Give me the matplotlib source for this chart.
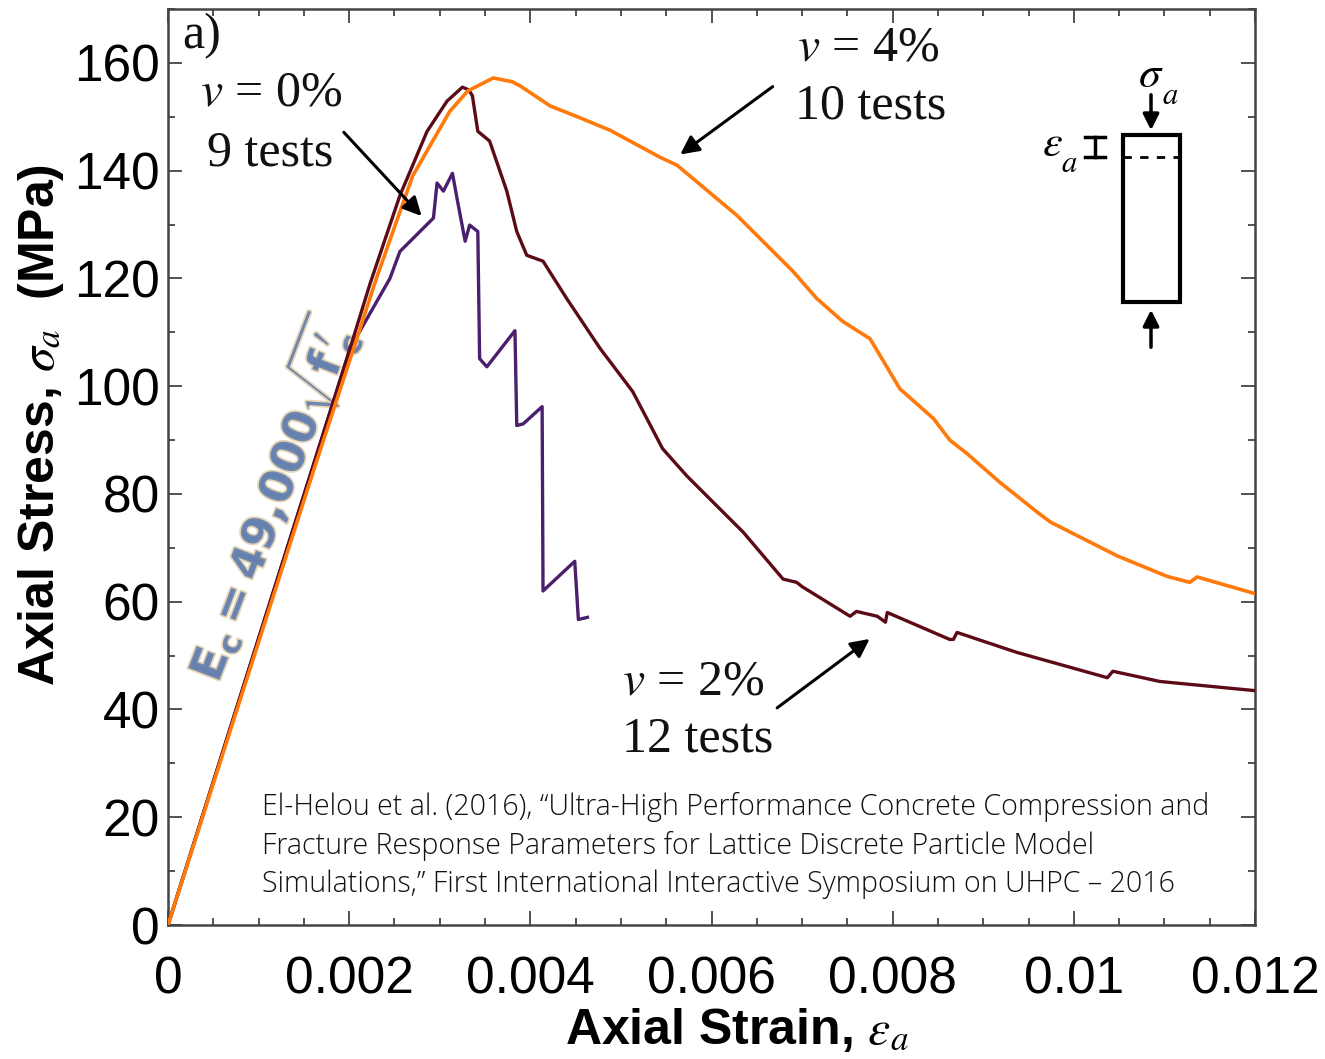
import matplotlib
matplotlib.use("Agg")
import matplotlib.pyplot as plt
import matplotlib.patheffects as pe
from matplotlib.patches import Rectangle
from matplotlib.ticker import MultipleLocator, FuncFormatter

# v = 0 % fibre volume (9 tests)
strain_v0 = [0, 0.00201, 0.00209, 0.00245, 0.00256, 0.00293, 0.00297, 0.00304,
             0.00314, 0.00319, 0.00328, 0.00333, 0.00342, 0.00344, 0.00352,
             0.00383, 0.00385, 0.00392, 0.00413, 0.00414, 0.00449, 0.00453,
             0.00463]
stress_v0 = [0, 107, 109.4, 120, 125, 131.2, 137.7, 136.2,
             139.5, 134.9, 126.9, 129.9, 128.7, 105.1, 103.6,
             110.3, 92.7, 93, 96.2, 62, 67.5, 56.7,
             57.1]

# v = 2 % (12 tests)
strain_v2 = [0, 0.0008, 0.0016, 0.002, 0.00223, 0.00256, 0.00286, 0.00308,
             0.00325, 0.00332, 0.00336, 0.00342, 0.00355, 0.00374, 0.00385,
             0.00396, 0.00414, 0.0044, 0.00477, 0.00513, 0.00546, 0.00573,
             0.00635, 0.00679, 0.00694, 0.0070, 0.00753, 0.0076, 0.00783,
             0.00792, 0.00794, 0.00863, 0.00867, 0.00871, 0.00937, 0.01037,
             0.01043, 0.01095, 0.012]
stress_v2 = [0, 42.5, 85, 106.5, 119, 135.4, 147.3, 152.9,
             155.5, 155, 153.9, 147.3, 145.5, 136.2, 128.7,
             124.3, 123.2, 116.3, 107, 99, 88.4, 83.3,
             72.9, 64.2, 63.6, 62.8, 57.3, 58.2, 57.3,
             56.2, 58, 53, 53, 54.3, 50.6, 45.9,
             47.1, 45.2, 43.5]

# v = 4 % (10 tests)
strain_v4 = [0, 0.0008, 0.0016, 0.002, 0.0023, 0.0027, 0.00311, 0.00331,
             0.00359, 0.0038, 0.00389, 0.00422, 0.00452, 0.00488, 0.00543,
             0.00562, 0.00628, 0.0069, 0.00716, 0.00745, 0.00775, 0.00808,
             0.00845, 0.00863, 0.00882, 0.00918, 0.00959, 0.00974, 0.01048,
             0.01103, 0.01128, 0.01136, 0.012]
stress_v4 = [0, 42, 84, 104.5, 120, 139, 151, 154.8,
             157.2, 156.5, 155.7, 152, 150, 147.5, 142.5,
             141, 131.7, 121.3, 116.3, 112, 108.8, 99.5,
             94, 90, 87.5, 82.2, 76.7, 74.8, 68.5,
             64.7, 63.6, 64.6, 61.5]

x_ticks = [0, 0.002, 0.004, 0.006, 0.008, 0.01, 0.012]
y_ticks = [0, 20, 40, 60, 80, 100, 120, 140, 160]

citation = ("El-Helou et al. (2016), \u201cUltra-High Performance Concrete Compression and\n"
            "Fracture Response Parameters for Lattice Discrete Particle Model\n"
            "Simulations,\u201d First International Interactive Symposium on UHPC \u2013 2016")

plt.rcParams["mathtext.fontset"] = "stix"

fig = plt.figure(figsize=(13.25, 10.59), dpi=100)
ax = fig.add_axes([0.1268, 0.1265, 0.8204, 0.865])

ax.plot(strain_v0, stress_v0, color="#4a1f6b", lw=2.4, zorder=3)
ax.plot(strain_v2, stress_v2, color="#5c0b16", lw=2.4, zorder=4)
ax.plot(strain_v4, stress_v4, color="#ff7a0a", lw=2.6, zorder=5)

ax.set_xlim(0, 0.012)
ax.set_ylim(0, 170)
ax.set_xticks(x_ticks)
ax.set_yticks(y_ticks)
ax.xaxis.set_minor_locator(MultipleLocator(0.0005))
ax.yaxis.set_minor_locator(MultipleLocator(10))
ax.xaxis.set_major_formatter(FuncFormatter(lambda v, p: "%g" % v))
ax.tick_params(which="both", direction="in", top=True, right=True,
               color="#444444", width=1.3)
ax.tick_params(which="major", length=10)
ax.tick_params(which="minor", length=5)
ax.tick_params(axis="x", which="major", pad=22)
ax.tick_params(axis="y", which="major", pad=6)
for lab in ax.get_xticklabels() + ax.get_yticklabels():
    lab.set_fontfamily("Liberation Sans")
    lab.set_fontsize(37)
for s in ax.spines.values():
    s.set_color("#444444")
    s.set_linewidth(1.8)

ax.set_xlabel(r"Axial Strain, $\varepsilon_a$", fontsize=36, fontweight="bold",
              family="Liberation Sans")
ax.set_ylabel(r"Axial Stress, $\sigma_a$  (MPa)", fontsize=36, fontweight="bold",
              family="Liberation Sans")
ax.xaxis.set_label_coords(0.523, -0.088)
ax.yaxis.set_label_coords(-0.094, 0.546)

serif = dict(family="Liberation Serif", fontsize=36, color="#111111")
ax.text(0.00016, 165, "a)", ha="left", va="center", **serif)
ax.text(0.00035, 154.4, r"$v$ = 0%", ha="left", va="center", **serif)
ax.text(0.00043, 143.3, "9 tests", ha="left", va="center", **serif)
ax.text(0.00694, 162.8, r"$v$ = 4%", ha="left", va="center", **serif)
ax.text(0.00692, 152, "10 tests", ha="left", va="center", **serif)
ax.text(0.00501, 45, r"$v$ = 2%", ha="left", va="center", **serif)
ax.text(0.00501, 34.4, "12 tests", ha="left", va="center", **serif)

arrow = dict(arrowstyle="-|>", color="black", lw=2.2, mutation_scale=28)
ax.annotate("", xy=(0.00282, 131.2), xytext=(0.00192, 147.5), arrowprops=arrow, zorder=6)
ax.annotate("", xy=(0.00563, 142.7), xytext=(0.0067, 155.9), arrowprops=arrow, zorder=6)
ax.annotate("", xy=(0.00777, 53.4), xytext=(0.0067, 40), arrowprops=arrow, zorder=6)

# specimen sketch (axes fraction coords)
tr = ax.transAxes
ax.add_patch(Rectangle((0.8786, 0.680), 0.0524, 0.1824, transform=tr,
                       fill=False, lw=3, ec="black", zorder=6))
ax.plot([0.8786, 0.931], [0.8384, 0.8384], transform=tr, color="black",
        lw=2, ls=(0, (3, 3)), zorder=6)
sk_arrow = dict(arrowstyle="-|>", color="black", lw=2.5, mutation_scale=24)
ax.annotate("", xy=(0.9043, 0.8646), xytext=(0.9043, 0.9094), xycoords=tr,
            textcoords=tr, arrowprops=sk_arrow)
ax.annotate("", xy=(0.9043, 0.6747), xytext=(0.9043, 0.6277), xycoords=tr,
            textcoords=tr, arrowprops=sk_arrow)
ax.plot([0.8528, 0.8528], [0.8384, 0.8603], transform=tr, color="black", lw=2.5)
ax.plot([0.8436, 0.862], [0.8603, 0.8603], transform=tr, color="black", lw=2.5)
ax.plot([0.8436, 0.862], [0.8384, 0.8384], transform=tr, color="black", lw=2.5)
ax.text(0.904, 0.928, r"$\sigma$", transform=tr, fontsize=32, ha="center", va="center")
ax.text(0.922, 0.906, r"$a$", transform=tr, fontsize=22, ha="center", va="center")
ax.text(0.8133, 0.8537, r"$\varepsilon$", transform=tr, fontsize=32, ha="center", va="center")
ax.text(0.829, 0.831, r"$a$", transform=tr, fontsize=22, ha="center", va="center")

# modulus note along the elastic branch
ax.text(0.092, 0.466, r"$\mathbf{E_c = 49{,}000\sqrt{f\,^{\prime}_c}}$", transform=tr,
        rotation=69, rotation_mode="anchor", ha="center", va="center",
        fontsize=33, color="#6580b0", math_fontfamily="dejavusans", alpha=0.9,
        path_effects=[pe.withStroke(linewidth=2.5, foreground="#e3d2b0")], zorder=2)

ax.text(0.0865, 0.145, citation, transform=tr, ha="left", va="top",
        fontsize=20.6, family="Open Sans", fontweight="light", color="#111111",
        linespacing=1.38, zorder=7)

fig.savefig("out.png", dpi=100)
